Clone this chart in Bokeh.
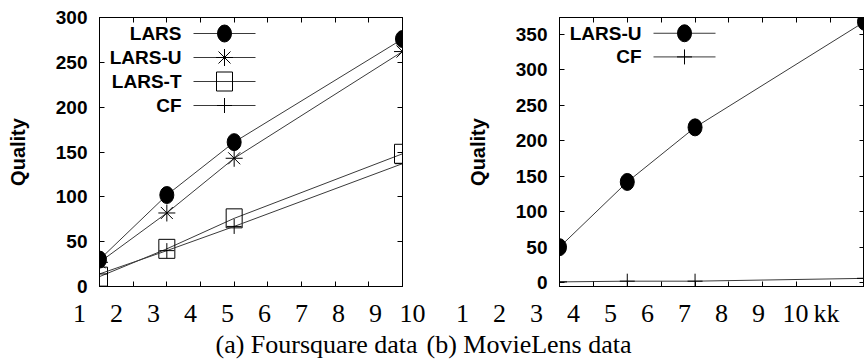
from bokeh.plotting import figure
from bokeh.models import Range1d, FixedTicker, LinearAxis, Label
from bokeh.layouts import row, column
from bokeh.core.properties import value
from bokeh.embed import file_html
from bokeh.resources import INLINE

# ---------------- data ----------------
x_vals = [1, 3, 5, 10]
x_tick_vals = [1, 2, 3, 4, 5, 6, 7, 8, 9, 10]
x_tick_labels = ["1", "2", "3", "4", "5", "6", "7", "8", "9", "10"]

fs_lars = [30, 102, 161, 276]
fs_lars_u = [27, 82, 143, 262]
fs_lars_t = [11, 42, 76, 148]
fs_cf = [14, 40, 67, 137]
fs_yticks = [0, 50, 100, 150, 200, 250, 300]

ml_lars_u = [50, 142, 219, 368]
ml_cf = [1, 2, 2, 6]
ml_yticks = [0, 50, 100, 150, 200, 250, 300, 350]

captions = ["(a) Foursquare data", "(b) MovieLens data"]
y_label = "Quality"
extra_unit = "kk"

# ---------------- style / layout ----------------
SANS = "Liberation Sans"
SERIF = "Liberation Serif"
SERIF_SIZE = "26px"
LINE = "#3a3a3a"
TOP_H = 300          # height of the two plot panels
BOT_H = 61           # height of the strip holding tick-number rows and captions
A_W, B_W = 426, 438
A_FL, B_FL = 99, 133  # frame left inside each panel


class Panel:
    def __init__(self, width, fl, fw, ft, fh, ymin, ymax, yticks):
        self.fl, self.fw, self.ft, self.fh = fl, fw, ft, fh
        self.ymin, self.ymax = ymin, ymax
        p = figure(width=width, height=TOP_H, output_backend="svg", toolbar_location=None,
                   x_range=Range1d(1, 10), y_range=Range1d(ymin, ymax),
                   x_axis_location=None, y_axis_location=None,
                   min_border_left=fl, min_border_right=width - fl - fw,
                   min_border_top=ft, min_border_bottom=TOP_H - ft - fh)
        p.grid.visible = False
        p.outline_line_color = "black"
        p.outline_line_width = 1
        for loc in ("below", "above"):
            ax = LinearAxis(ticker=FixedTicker(ticks=[], minor_ticks=x_tick_vals))
            self._plain(ax)
            p.add_layout(ax, loc)
        yl = LinearAxis(ticker=FixedTicker(ticks=yticks), axis_label=y_label)
        yl.major_tick_in = 5
        yl.major_tick_out = 0
        yl.minor_tick_in = 0
        yl.minor_tick_out = 0
        yl.major_label_standoff = 12
        yl.major_label_text_font = SANS
        yl.major_label_text_font_style = "bold"
        yl.major_label_text_font_size = "19px"
        yl.major_label_text_color = "black"
        yl.axis_label_text_font = SANS
        yl.axis_label_text_font_style = "bold"
        yl.axis_label_text_font_size = "20px"
        yl.axis_label_text_color = "black"
        yl.axis_label_standoff = 24
        yl.axis_line_color = "black"
        p.add_layout(yl, "left")
        yr = LinearAxis(ticker=FixedTicker(ticks=[], minor_ticks=yticks))
        self._plain(yr)
        p.add_layout(yr, "right")
        self.p = p

    @staticmethod
    def _plain(ax):
        ax.major_tick_in = 0
        ax.major_tick_out = 0
        ax.minor_tick_in = 5
        ax.minor_tick_out = 0
        ax.minor_tick_line_color = "black"
        ax.major_label_standoff = 0
        ax.axis_line_color = "black"

    # layout helpers: pixel offsets from the frame -> data coordinates
    def dx(self, px):
        return 1 + px / self.fw * 9

    def dy(self, px_from_top):
        return self.ymax - px_from_top / self.fh * (self.ymax - self.ymin)

    def line(self, ys):
        self.p.line(x_vals, ys, line_color=LINE, line_width=1)

    def marker(self, kind, xs, ys):
        p = self.p
        if kind == "circle":
            p.ellipse(xs, ys, width=14, height=17, width_units="screen", height_units="screen",
                      fill_color="black", line_color="black")
        elif kind == "square":
            p.rect(xs, ys, width=16, height=19, width_units="screen", height_units="screen",
                   fill_color=None, line_color="black", line_width=1)
        elif kind == "asterisk":
            p.scatter(xs, ys, marker="asterisk", size=17, line_color="black", line_width=1)
        elif kind == "cross":
            p.scatter(xs, ys, marker="cross", size=15, line_color="black", line_width=1)

    def series(self, ys, kind):
        self.line(ys)
        self.marker(kind, x_vals, ys)

    def legend(self, entries):
        for i, (name, kind) in enumerate(entries):
            yy = self.dy(16 + i * 24)
            self.p.line([self.dx(94), self.dx(156)], [yy, yy], line_color=LINE, line_width=1)
            self.marker(kind, [self.dx(125)], [yy])
            self.p.add_layout(Label(x=self.dx(82), y=yy, text=name, text_align="right",
                                    text_baseline="middle", text_font=SANS, text_font_style="bold",
                                    text_font_size="19px", text_color="black"))


# ---------------- left panel: Foursquare ----------------
a = Panel(A_W, A_FL, 303, 17, 269, 0, 300, fs_yticks)
a.series(fs_lars_t, "square")
a.series(fs_cf, "cross")
a.series(fs_lars_u, "asterisk")
a.series(fs_lars, "circle")
a.legend([("LARS", "circle"), ("LARS-U", "asterisk"), ("LARS-T", "square"), ("CF", "cross")])

# ---------------- right panel: MovieLens ----------------
b = Panel(B_W, B_FL, 305, 17, 273, -5.5, 374, ml_yticks)
b.series(ml_cf, "cross")
b.series(ml_lars_u, "circle")
b.legend([("LARS-U", "circle"), ("CF", "cross")])

# ---------------- bottom strip: number rows and captions ----------------
s = figure(width=A_W + B_W, height=BOT_H, output_backend="svg", toolbar_location=None,
           x_range=Range1d(0, A_W + B_W), y_range=Range1d(BOT_H, 0),
           x_axis_location=None, y_axis_location=None, min_border=0)
s.grid.visible = False
s.outline_line_color = None

STEP = 37.0
ROW_Y = 12.5
CAP_Y = 44
a_left = A_FL
b_left = A_W + B_FL
xs_a = [a_left - 20 + i * STEP for i in range(len(x_tick_labels))]
xs_b = [b_left - 97 + i * STEP for i in range(len(x_tick_labels))]
num_style = dict(text_align="center", text_baseline="middle", text_font=value(SERIF),
                 text_font_size=SERIF_SIZE, text_color="black")
s.text(x=xs_a, y=[ROW_Y] * len(xs_a), text=x_tick_labels, **num_style)
s.text(x=xs_b, y=[ROW_Y] * len(xs_b), text=x_tick_labels, **num_style)
s.text(x=[xs_b[-1] + 18], y=[ROW_Y], text=[extra_unit], text_align="left", text_baseline="middle",
       text_font=value(SERIF), text_font_size=SERIF_SIZE, text_color="black")
s.text(x=[a_left + 116, A_W], y=[CAP_Y, CAP_Y], text=captions, text_align="left",
       text_baseline="middle", text_font=value(SERIF), text_font_size=SERIF_SIZE, text_color="black")

layout = column(row(a.p, b.p), s)
open("out.html", "w").write(file_html(layout, INLINE))
